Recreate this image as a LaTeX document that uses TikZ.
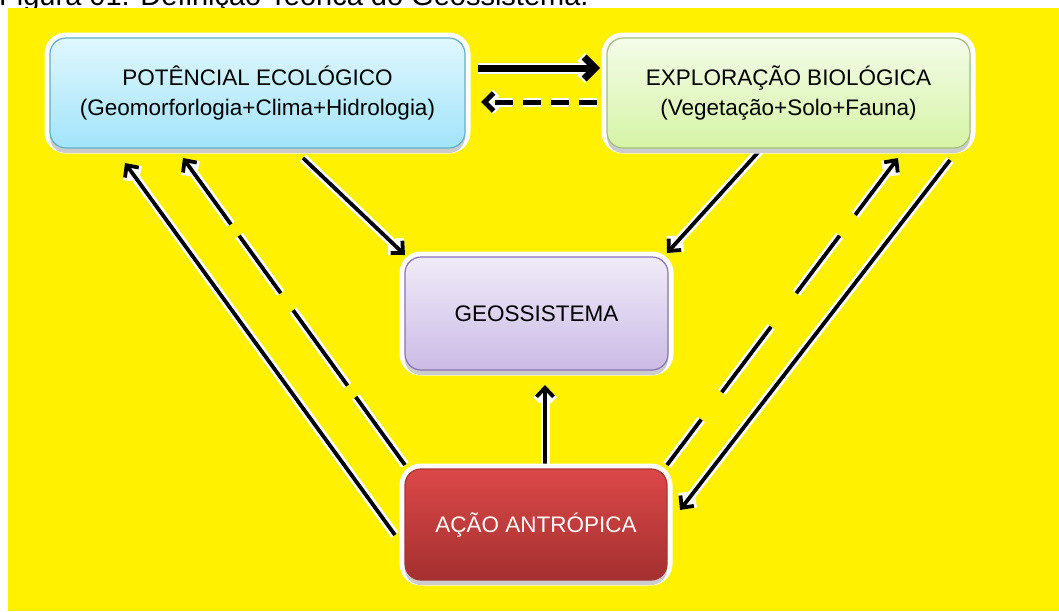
\documentclass[tikz,border=0pt]{standalone}
\usepackage{fontspec}
\setmainfont{Liberation Sans}
\usetikzlibrary{arrows.meta,shadows,calc,backgrounds}
\definecolor{bgyel}{HTML}{FFF100}
\definecolor{potT}{HTML}{E0F7FE}
\definecolor{potB}{HTML}{A2E4FA}
\definecolor{potD}{HTML}{62B0C8}
\definecolor{expT}{HTML}{F4FCE9}
\definecolor{expB}{HTML}{D6F4A6}
\definecolor{expD}{HTML}{A3C07A}
\definecolor{geoT}{HTML}{F0EBF8}
\definecolor{geoB}{HTML}{CBBBE6}
\definecolor{geoD}{HTML}{8A72B4}
\definecolor{acaT}{HTML}{DC4848}
\definecolor{acaB}{HTML}{A43030}
\definecolor{acaD}{HTML}{A83434}
\begin{document}
\begin{tikzpicture}[x=1pt,y=-1pt,
  box/.style={draw, line width=1.2pt, rounded corners=16pt, align=center,
    inner sep=0pt, outer sep=0pt, font=\fontsize{22.5}{30}\selectfont,
    preaction={draw=white, line width=11pt},
    drop shadow={shadow xshift=0pt, shadow yshift=-5pt, opacity=0.4}},
  halo/.style={preaction={draw=white, line width=#1}},
  arr/.style={draw=black, line width=3.8pt,
    -{Straight Barb[length=9pt,width=17pt]}},
  solidarr/.style={arr, halo=9pt},
  dasharr/.style={arr, dash pattern=#1,
    preaction={draw=white, line width=9pt, dash pattern=#1}}]
\useasboundingbox (0,0) rectangle (1059,611);
\clip (0,0) rectangle (1059,611);

\node[box, minimum width=415pt, minimum height=110pt, top color=potT,
  bottom color=potB, draw=potD] (pot) at (257.5,93)
  {POTÊNCIAL ECOLÓGICO\\(Geomorforlogia+Clima+Hidrologia)};
\node[box, minimum width=363pt, minimum height=110pt, top color=expT,
  bottom color=expB, draw=expD] (exp) at (788.5,93)
  {EXPLORAÇÃO BIOLÓGICA\\(Vegetação+Solo+Fauna)};
\node[box, minimum width=263pt, minimum height=113pt, top color=geoT,
  bottom color=geoB, draw=geoD] (geo) at (536.5,313.5) {GEOSSISTEMA};
\node[box, minimum width=262pt, minimum height=111pt, top color=acaT,
  bottom color=acaB, draw=acaD, text=white] (acao) at (536,524.5)
  {AÇÃO ANTRÓPICA};

\begin{pgfonlayer}{background}
\node[anchor=base west, inner sep=0pt, font=\fontsize{29}{34}\selectfont]
  (cap) at (-1,5) {Figura 01: Definição Teórica do Geossistema.};
\fill[bgyel] (8,8) rectangle (1059,611);

% top pair
\draw[arr, line width=7pt, halo=11pt, -{Straight Barb[length=11pt,width=22pt]}]
  ($(pot.north east)+(13,30)$) -- ($(exp.north west)+(-7,30)$);
\draw[arr, line width=5pt, dash pattern=on 18pt off 10pt,
  preaction={draw=white, line width=9pt, dash pattern=on 18pt off 10pt},
  -{Straight Barb[length=9pt,width=18pt]}]
  ($(exp.north west)+(-10,64)$) -- ($(pot.north east)+(16,64)$);

% into geossistema
\draw[solidarr] ($(pot.south west)+(253,10)$) -- ($(geo.north west)+(0,-2)$);
\draw[solidarr] ($(exp.south west)+(155,0)$) -- ($(geo.north east)+(-1,-4)$);
\draw[solidarr] ($(acao.north west)+(140,0)$) -- ($(geo.south west)+(140,15)$);

% left side
\draw[solidarr] ($(acao.north west)+(-10,66)$) -- ($(pot.south west)+(75,15)$);
\draw[dasharr={on 84pt off 14pt on 93pt off 21pt on 71pt off 14pt on 120pt}]
  ($(acao.north west)+(0,-4)$) -- ($(pot.south west)+(133,10)$);

% right side
\draw[dasharr={on 57pt off 34pt on 82pt off 42pt on 72pt off 26pt on 120pt}]
  ($(acao.north east)+(0,-4)$) -- ($(exp.south west)+(291,10)$);
\draw[solidarr] ($(exp.south west)+(343,12)$) -- ($(acao.north east)+(13,41)$);
\end{pgfonlayer}
\end{tikzpicture}
\end{document}
